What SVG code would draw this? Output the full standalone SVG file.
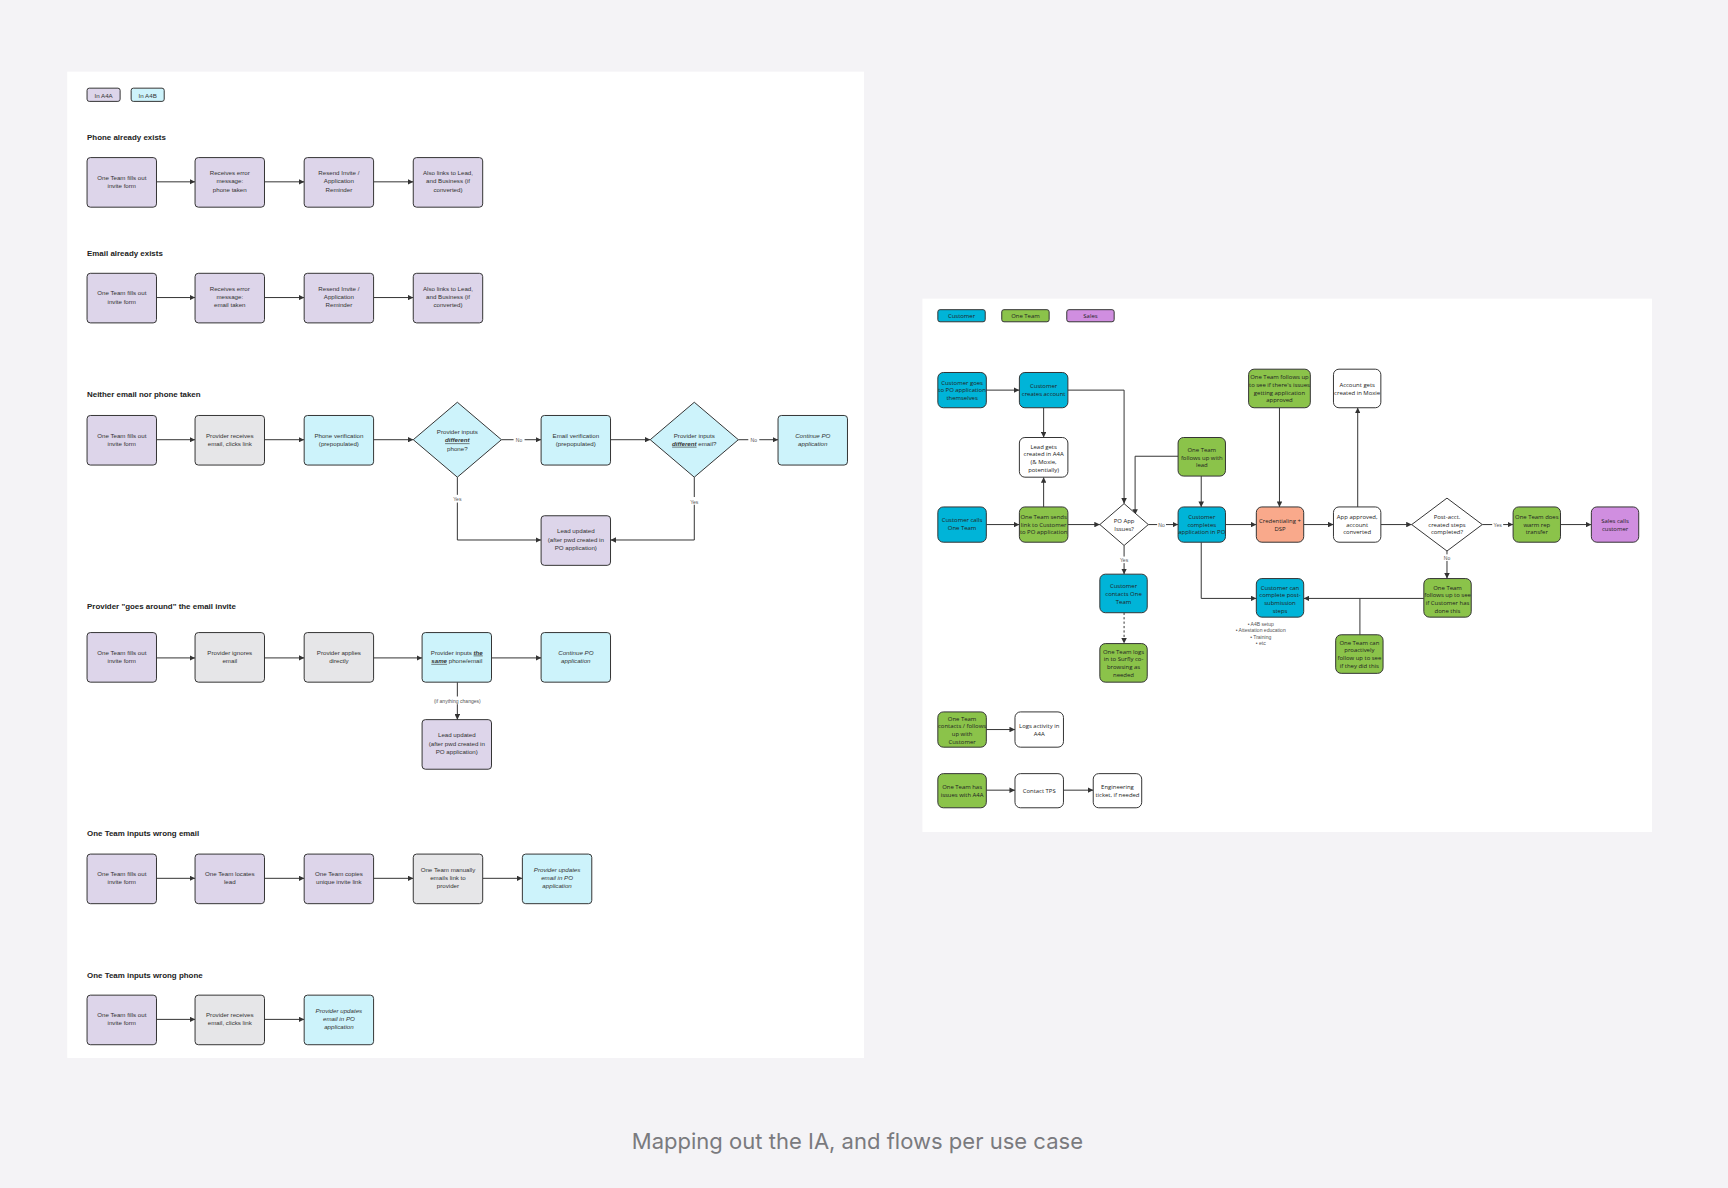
<svg xmlns="http://www.w3.org/2000/svg" width="1728" height="1188" viewBox="0 0 1728 1188">
<defs>
<style>
.bg{fill:#f4f3f6}
.n{stroke:#333;stroke-width:0.9}
.pu{fill:#ddd5ea}.gy{fill:#e6e6e8}.cy{fill:#cdf3fb}
.rc{fill:#00b4d8}.rg{fill:#8bc34a}.rs{fill:#d08ee0}.rw{fill:#fff}.ro{fill:#f9a98b}
.t{font-family:"Liberation Sans",Arial,sans-serif;font-size:5.6px;fill:#333;text-anchor:middle}
.r{font-family:"Open Sans","Liberation Sans",sans-serif;font-size:5.4px;fill:#222;text-anchor:middle}
.h{font-family:"Liberation Sans",Arial,sans-serif;font-size:7.2px;font-weight:bold;fill:#222}
.l{font-family:"Liberation Sans",Arial,sans-serif;font-size:4.6px;fill:#555;text-anchor:middle}
.i{font-style:italic}
.c path,.c line{fill:none;stroke:#333;stroke-width:0.9;marker-end:url(#a)}
.c .na{marker-end:none}
.c .d{stroke-dasharray:2 2}
.cap{font-family:"Inter","Liberation Sans",sans-serif;font-size:20px;fill:#7a7a7e;text-anchor:middle}
</style>
<marker id="a" viewBox="0 0 6 6" refX="6" refY="3" markerWidth="5" markerHeight="5" markerUnits="userSpaceOnUse" orient="auto"><path d="M0,0 L6,3 L0,6 z" fill="#333"/></marker>
</defs>
<rect class="bg" x="0" y="0" width="1728" height="1188"/>
<g transform="scale(1.10204)">
<rect x="61" y="65" width="723" height="895" fill="#fff"/>
<rect x="837" y="271" width="662" height="484" fill="#fff"/>
<text class="cap" x="778" y="1043">Mapping out the IA, and flows per use case</text>

<!-- left legend -->
<g id="legA4A"><rect class="n pu" x="79" y="80" width="30" height="12" rx="2"/><text class="t" x="94" y="88.5" font-size="6.5">In A4A</text></g>
<g id="legA4B"><rect class="n cy" x="119" y="80" width="30" height="12" rx="2"/><text class="t" x="134" y="88.5" font-size="6.5">In A4B</text></g>

<text class="h" x="79" y="127">Phone already exists</text>
<text class="h" x="79" y="232">Email already exists</text>
<text class="h" x="79" y="360">Neither email nor phone taken</text>
<text class="h" x="79" y="553">Provider "goes around" the email invite</text>
<text class="h" x="79" y="759">One Team inputs wrong email</text>
<text class="h" x="79" y="887">One Team inputs wrong phone</text>

<g class="c">
<line x1="142" y1="165" x2="177" y2="165"/><line x1="240" y1="165" x2="276" y2="165"/><line x1="339" y1="165" x2="375" y2="165"/>
<line x1="142" y1="270" x2="177" y2="270"/><line x1="240" y1="270" x2="276" y2="270"/><line x1="339" y1="270" x2="375" y2="270"/>
<line x1="142" y1="399" x2="177" y2="399"/><line x1="240" y1="399" x2="276" y2="399"/><line x1="339" y1="399" x2="375" y2="399"/>
<line x1="455" y1="399" x2="491" y2="399"/><line x1="554" y1="399" x2="590" y2="399"/><line x1="670" y1="399" x2="706" y2="399"/>
<path d="M415,433 V490 H491"/><path d="M630,433 V490 H554"/>
<line x1="142" y1="597" x2="177" y2="597"/><line x1="240" y1="597" x2="276" y2="597"/><line x1="339" y1="597" x2="383" y2="597"/><line x1="446" y1="597" x2="491" y2="597"/>
<line x1="415" y1="619" x2="415" y2="653"/>
<line x1="142" y1="797" x2="177" y2="797"/><line x1="240" y1="797" x2="276" y2="797"/><line x1="339" y1="797" x2="375" y2="797"/><line x1="438" y1="797" x2="474" y2="797"/>
<line x1="142" y1="925" x2="177" y2="925"/><line x1="240" y1="925" x2="276" y2="925"/>
</g>
<rect x="466" y="395" width="10" height="7" fill="#fff"/><text class="l" x="471" y="401">No</text>
<rect x="679" y="395" width="10" height="7" fill="#fff"/><text class="l" x="684" y="401">No</text>
<rect x="409" y="449" width="12" height="7" fill="#fff"/><text class="l" x="415" y="455">Yes</text>
<rect x="624" y="451" width="12" height="7" fill="#fff"/><text class="l" x="630" y="457">Yes</text>
<rect x="388" y="632" width="54" height="7" fill="#fff"/><text class="l" x="415" y="637.5">(if anything changes)</text>

<!-- row 1 -->
<g id="p1"><rect class="n pu" x="79" y="143" width="63" height="45" rx="3"/><text class="t" x="110.5" y="163">One Team fills out<tspan x="110.5" dy="7.5">invite form</tspan></text></g>
<g id="p2"><rect class="n pu" x="177" y="143" width="63" height="45" rx="3"/><text class="t" x="208.5" y="159">Receives error<tspan x="208.5" dy="7.5">message:</tspan><tspan x="208.5" dy="7.5">phone taken</tspan></text></g>
<g id="p3"><rect class="n pu" x="276" y="143" width="63" height="45" rx="3"/><text class="t" x="307.5" y="159">Resend Invite /<tspan x="307.5" dy="7.5">Application</tspan><tspan x="307.5" dy="7.5">Reminder</tspan></text></g>
<g id="p4"><rect class="n pu" x="375" y="143" width="63" height="45" rx="3"/><text class="t" x="406.5" y="159">Also links to Lead,<tspan x="406.5" dy="7.5">and Business (if</tspan><tspan x="406.5" dy="7.5">converted)</tspan></text></g>
<!-- row 2 -->
<g id="e1"><rect class="n pu" x="79" y="248" width="63" height="45" rx="3"/><text class="t" x="110.5" y="268">One Team fills out<tspan x="110.5" dy="7.5">invite form</tspan></text></g>
<g id="e2"><rect class="n pu" x="177" y="248" width="63" height="45" rx="3"/><text class="t" x="208.5" y="264">Receives error<tspan x="208.5" dy="7.5">message:</tspan><tspan x="208.5" dy="7.5">email taken</tspan></text></g>
<g id="e3"><rect class="n pu" x="276" y="248" width="63" height="45" rx="3"/><text class="t" x="307.5" y="264">Resend Invite /<tspan x="307.5" dy="7.5">Application</tspan><tspan x="307.5" dy="7.5">Reminder</tspan></text></g>
<g id="e4"><rect class="n pu" x="375" y="248" width="63" height="45" rx="3"/><text class="t" x="406.5" y="264">Also links to Lead,<tspan x="406.5" dy="7.5">and Business (if</tspan><tspan x="406.5" dy="7.5">converted)</tspan></text></g>
<!-- row 3 -->
<g id="n1"><rect class="n pu" x="79" y="377" width="63" height="45" rx="3"/><text class="t" x="110.5" y="397">One Team fills out<tspan x="110.5" dy="7.5">invite form</tspan></text></g>
<g id="n2"><rect class="n gy" x="177" y="377" width="63" height="45" rx="3"/><text class="t" x="208.5" y="397">Provider receives<tspan x="208.5" dy="7.5">email, clicks link</tspan></text></g>
<g id="n3"><rect class="n cy" x="276" y="377" width="63" height="45" rx="3"/><text class="t" x="307.5" y="397">Phone verification<tspan x="307.5" dy="7.5">(prepopulated)</tspan></text></g>
<g id="n4"><path class="n cy" d="M415,365 L455,399 L415,433 L375,399 Z"/><text class="t" x="415" y="394">Provider inputs<tspan x="415" dy="7.5" font-weight="bold" font-style="italic" text-decoration="underline">different</tspan><tspan x="415" dy="7.5">phone?</tspan></text></g>
<g id="n5"><rect class="n cy" x="491" y="377" width="63" height="45" rx="3"/><text class="t" x="522.5" y="397">Email verification<tspan x="522.5" dy="7.5">(prepopulated)</tspan></text></g>
<g id="n6"><path class="n cy" d="M630,365 L670,399 L630,433 L590,399 Z"/><text class="t" x="630" y="397">Provider inputs<tspan x="630" dy="7.5"><tspan font-weight="bold" font-style="italic" text-decoration="underline">different</tspan> email?</tspan></text></g>
<g id="n7"><rect class="n cy" x="706" y="377" width="63" height="45" rx="3"/><text class="t i" x="737.5" y="397">Continue PO<tspan x="737.5" dy="7.5">application</tspan></text></g>
<g id="n8"><rect class="n pu" x="491" y="468" width="63" height="45" rx="3"/><text class="t" x="522.5" y="484">Lead updated<tspan x="522.5" dy="7.5">(after pwd created in</tspan><tspan x="522.5" dy="7.5">PO application)</tspan></text></g>
<!-- row 4 -->
<g id="g1"><rect class="n pu" x="79" y="574" width="63" height="45" rx="3"/><text class="t" x="110.5" y="594">One Team fills out<tspan x="110.5" dy="7.5">invite form</tspan></text></g>
<g id="g2"><rect class="n gy" x="177" y="574" width="63" height="45" rx="3"/><text class="t" x="208.5" y="594">Provider ignores<tspan x="208.5" dy="7.5">email</tspan></text></g>
<g id="g3"><rect class="n gy" x="276" y="574" width="63" height="45" rx="3"/><text class="t" x="307.5" y="594">Provider applies<tspan x="307.5" dy="7.5">directly</tspan></text></g>
<g id="g4"><rect class="n cy" x="383" y="574" width="63" height="45" rx="3"/><text class="t" x="414.5" y="594">Provider inputs <tspan font-weight="bold" font-style="italic" text-decoration="underline">the</tspan><tspan x="414.5" dy="7.5"><tspan font-weight="bold" font-style="italic" text-decoration="underline">same</tspan> phone/email</tspan></text></g>
<g id="g5"><rect class="n cy" x="491" y="574" width="63" height="45" rx="3"/><text class="t i" x="522.5" y="594">Continue PO<tspan x="522.5" dy="7.5">application</tspan></text></g>
<g id="g6"><rect class="n pu" x="383" y="653" width="63" height="45" rx="3"/><text class="t" x="414.5" y="669">Lead updated<tspan x="414.5" dy="7.5">(after pwd created in</tspan><tspan x="414.5" dy="7.5">PO application)</tspan></text></g>
<!-- row 5 -->
<g id="w1"><rect class="n pu" x="79" y="775" width="63" height="45" rx="3"/><text class="t" x="110.5" y="795">One Team fills out<tspan x="110.5" dy="7.5">invite form</tspan></text></g>
<g id="w2"><rect class="n pu" x="177" y="775" width="63" height="45" rx="3"/><text class="t" x="208.5" y="795">One Team locates<tspan x="208.5" dy="7.5">lead</tspan></text></g>
<g id="w3"><rect class="n pu" x="276" y="775" width="63" height="45" rx="3"/><text class="t" x="307.5" y="795">One Team copies<tspan x="307.5" dy="7.5">unique invite link</tspan></text></g>
<g id="w4"><rect class="n gy" x="375" y="775" width="63" height="45" rx="3"/><text class="t" x="406.5" y="791">One Team manually<tspan x="406.5" dy="7.5">emails link to</tspan><tspan x="406.5" dy="7.5">provider</tspan></text></g>
<g id="w5"><rect class="n cy" x="474" y="775" width="63" height="45" rx="3"/><text class="t i" x="505.5" y="791">Provider updates<tspan x="505.5" dy="7.5">email in PO</tspan><tspan x="505.5" dy="7.5">application</tspan></text></g>
<!-- row 6 -->
<g id="f1"><rect class="n pu" x="79" y="903" width="63" height="45" rx="3"/><text class="t" x="110.5" y="923">One Team fills out<tspan x="110.5" dy="7.5">invite form</tspan></text></g>
<g id="f2"><rect class="n gy" x="177" y="903" width="63" height="45" rx="3"/><text class="t" x="208.5" y="923">Provider receives<tspan x="208.5" dy="7.5">email, clicks link</tspan></text></g>
<g id="f3"><rect class="n cy" x="276" y="903" width="63" height="45" rx="3"/><text class="t i" x="307.5" y="919">Provider updates<tspan x="307.5" dy="7.5">email in PO</tspan><tspan x="307.5" dy="7.5">application</tspan></text></g>

<!-- right legend -->
<g id="lc"><rect class="n rc" x="851" y="281" width="43" height="11" rx="2"/><text class="r" x="872.5" y="288.5">Customer</text></g>
<g id="lo"><rect class="n rg" x="909" y="281" width="43" height="11" rx="2"/><text class="r" x="930.5" y="288.5">One Team</text></g>
<g id="ls"><rect class="n rs" x="968" y="281" width="43" height="11" rx="2"/><text class="r" x="989.5" y="288.5">Sales</text></g>

<g class="c">
<line x1="895" y1="354" x2="925" y2="354"/>
<path d="M969,354 H1020 V457"/>
<line x1="947" y1="370" x2="947" y2="397"/>
<line x1="947" y1="460" x2="947" y2="433"/>
<line x1="895" y1="476" x2="925" y2="476"/>
<line x1="969" y1="476" x2="998" y2="476"/>
<path d="M1069,414 H1030 V467"/>
<line x1="1090" y1="432" x2="1090" y2="460"/>
<line x1="1042" y1="476" x2="1069" y2="476"/>
<line x1="1020" y1="495" x2="1020" y2="521"/>
<line class="d" x1="1020" y1="556" x2="1020" y2="584"/>
<line x1="1112" y1="476" x2="1140" y2="476"/>
<line x1="1161" y1="370" x2="1161" y2="460"/>
<line x1="1183" y1="476" x2="1210" y2="476"/>
<line x1="1232" y1="460" x2="1232" y2="370"/>
<line x1="1253" y1="476" x2="1281" y2="476"/>
<line x1="1345" y1="476" x2="1373" y2="476"/>
<line x1="1416" y1="476" x2="1444" y2="476"/>
<line x1="1313" y1="500" x2="1313" y2="525"/>
<line x1="1292" y1="543" x2="1183" y2="543"/>
<line class="na" x1="1234" y1="576" x2="1234" y2="543"/>
<path d="M1090,492 V543 H1140"/>
<line x1="895" y1="662" x2="921" y2="662"/>
<line x1="895" y1="717" x2="921" y2="717"/>
<line x1="965" y1="717" x2="992" y2="717"/>
</g>
<rect x="1050" y="473" width="8" height="6" fill="#fff"/><text class="l" x="1054" y="478" font-size="3.8">No</text>
<rect x="1015" y="505" width="10" height="6" fill="#fff"/><text class="l" x="1020" y="510" font-size="3.8">Yes</text>
<rect x="1354" y="473" width="10" height="6" fill="#fff"/><text class="l" x="1359" y="478" font-size="3.8">Yes</text>
<rect x="1309" y="503" width="8" height="6" fill="#fff"/><text class="l" x="1313" y="508" font-size="3.8">No</text>

<g id="r1"><rect class="n rc" x="851" y="338" width="44" height="32" rx="5"/><text class="r" x="873" y="349">Customer goes<tspan x="873" dy="7">to PO application</tspan><tspan x="873" dy="7">themselves</tspan></text></g>
<g id="r2"><rect class="n rc" x="925" y="338" width="44" height="32" rx="5"/><text class="r" x="947" y="352">Customer<tspan x="947" dy="7">creates account</tspan></text></g>
<g id="r3"><rect class="n rw" x="925" y="397" width="44" height="36" rx="5"/><text class="r" x="947" y="407">Lead gets<tspan x="947" dy="7">created in A4A</tspan><tspan x="947" dy="7">(&amp; Moxie,</tspan><tspan x="947" dy="7">potentially)</tspan></text></g>
<g id="r4"><rect class="n rc" x="851" y="460" width="44" height="32" rx="5"/><text class="r" x="873" y="474">Customer calls<tspan x="873" dy="7">One Team</tspan></text></g>
<g id="r5"><rect class="n rg" x="925" y="460" width="44" height="32" rx="5"/><text class="r" x="947" y="471">One Team sends<tspan x="947" dy="7">link to Customer</tspan><tspan x="947" dy="7">to PO application</tspan></text></g>
<g id="r6"><path class="n rw" d="M1020,457 L1042,476 L1020,495 L998,476 Z"/><text class="r" x="1020" y="474.5">PO App<tspan x="1020" dy="7">Issues?</tspan></text></g>
<g id="r7"><rect class="n rg" x="1069" y="397" width="43" height="35" rx="5"/><text class="r" x="1090.5" y="410">One Team<tspan x="1090.5" dy="7">follows up with</tspan><tspan x="1090.5" dy="7">lead</tspan></text></g>
<g id="r8"><rect class="n rc" x="1069" y="460" width="43" height="32" rx="5"/><text class="r" x="1090.5" y="471">Customer<tspan x="1090.5" dy="7">completes</tspan><tspan x="1090.5" dy="7">application in PO</tspan></text></g>
<g id="r9"><rect class="n rc" x="998" y="521" width="43" height="35" rx="5"/><text class="r" x="1019.5" y="534">Customer<tspan x="1019.5" dy="7">contacts One</tspan><tspan x="1019.5" dy="7">Team</tspan></text></g>
<g id="r10"><rect class="n rg" x="998" y="584" width="43" height="35" rx="5"/><text class="r" x="1019.5" y="593">One Team logs<tspan x="1019.5" dy="7">in to Surfly co-</tspan><tspan x="1019.5" dy="7">browsing as</tspan><tspan x="1019.5" dy="7">needed</tspan></text></g>
<g id="r11"><rect class="n rg" x="1133" y="335" width="56" height="35" rx="5"/><text class="r" x="1161" y="344">One Team follows up<tspan x="1161" dy="7">to see if there's issues</tspan><tspan x="1161" dy="7">getting application</tspan><tspan x="1161" dy="7">approved</tspan></text></g>
<g id="r12"><rect class="n ro" x="1140" y="460" width="43" height="32" rx="5"/><text class="r" x="1161.5" y="474.5">Credentialing +<tspan x="1161.5" dy="7">DSP</tspan></text></g>
<g id="r13"><rect class="n rw" x="1210" y="335" width="43" height="35" rx="5"/><text class="r" x="1231.5" y="351">Account gets<tspan x="1231.5" dy="7">created in Moxie</tspan></text></g>
<g id="r14"><rect class="n rw" x="1210" y="460" width="43" height="32" rx="5"/><text class="r" x="1231.5" y="471">App approved,<tspan x="1231.5" dy="7">account</tspan><tspan x="1231.5" dy="7">converted</tspan></text></g>
<g id="r15"><path class="n rw" d="M1313,452 L1345,476 L1313,500 L1281,476 Z"/><text class="r" x="1313" y="471">Post-acct.<tspan x="1313" dy="7">created steps</tspan><tspan x="1313" dy="7">completed?</tspan></text></g>
<g id="r16"><rect class="n rg" x="1373" y="460" width="43" height="32" rx="5"/><text class="r" x="1394.5" y="471">One Team does<tspan x="1394.5" dy="7">warm rep</tspan><tspan x="1394.5" dy="7">transfer</tspan></text></g>
<g id="r17"><rect class="n rs" x="1444" y="460" width="43" height="32" rx="5"/><text class="r" x="1465.5" y="474.5">Sales calls<tspan x="1465.5" dy="7">customer</tspan></text></g>
<g id="r18"><rect class="n rg" x="1292" y="525" width="43" height="35" rx="5"/><text class="r" x="1313.5" y="535">One Team<tspan x="1313.5" dy="7">follows up to see</tspan><tspan x="1313.5" dy="7">if Customer has</tspan><tspan x="1313.5" dy="7">done this</tspan></text></g>
<g id="r19"><rect class="n rc" x="1140" y="525" width="43" height="35" rx="5"/><text class="r" x="1161.5" y="535">Customer can<tspan x="1161.5" dy="7">complete post-</tspan><tspan x="1161.5" dy="7">submission</tspan><tspan x="1161.5" dy="7">steps</tspan></text></g>
<text class="l" x="1144" y="568" font-size="3.8" text-anchor="start">•  A4B setup<tspan x="1144" dy="5.7">•  Attestation education</tspan><tspan x="1144" dy="5.7">•  Training</tspan><tspan x="1144" dy="5.7">•  etc</tspan></text>
<g id="r20"><rect class="n rg" x="1212" y="576" width="43" height="35" rx="5"/><text class="r" x="1233.5" y="585">One Team can<tspan x="1233.5" dy="7">proactively</tspan><tspan x="1233.5" dy="7">follow up to see</tspan><tspan x="1233.5" dy="7">if they did this</tspan></text></g>
<g id="r21"><rect class="n rg" x="851" y="646" width="44" height="32" rx="5"/><text class="r" x="873" y="654">One Team<tspan x="873" dy="7">contacts / follows</tspan><tspan x="873" dy="7">up with</tspan><tspan x="873" dy="7">Customer</tspan></text></g>
<g id="r22"><rect class="n rw" x="921" y="646" width="44" height="32" rx="5"/><text class="r" x="943" y="660.5">Logs activity in<tspan x="943" dy="7">A4A</tspan></text></g>
<g id="r23"><rect class="n rg" x="851" y="702" width="44" height="31" rx="5"/><text class="r" x="873" y="716">One Team has<tspan x="873" dy="7">issues with A4A</tspan></text></g>
<g id="r24"><rect class="n rw" x="921" y="702" width="44" height="31" rx="5"/><text class="r" x="943" y="719.5">Contact TPS</text></g>
<g id="r25"><rect class="n rw" x="992" y="702" width="44" height="31" rx="5"/><text class="r" x="1014" y="716">Engineering<tspan x="1014" dy="7">ticket, if needed</tspan></text></g>
</g>
</svg>
